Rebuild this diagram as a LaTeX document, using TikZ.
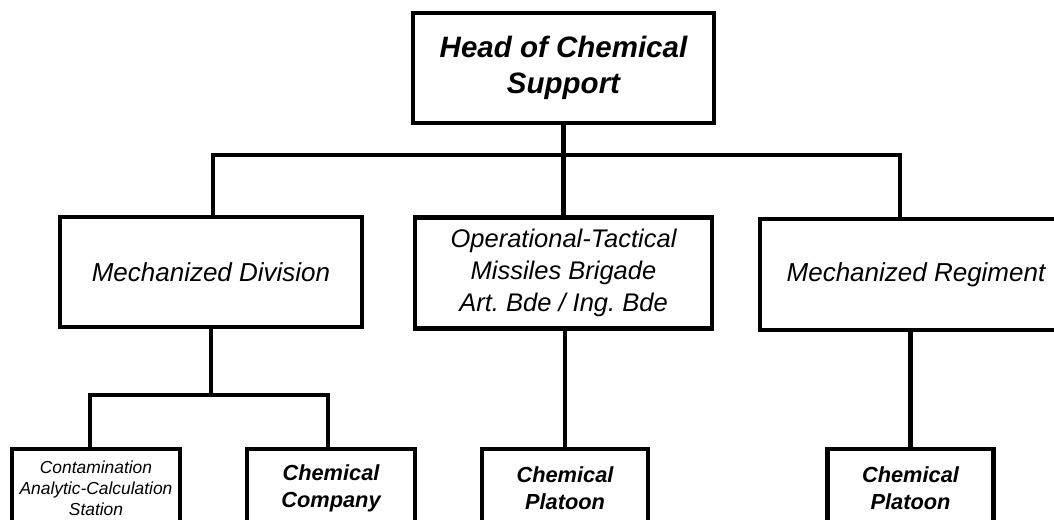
\documentclass[tikz,border=0pt]{standalone}
\usepackage{fontspec}
\setmainfont{Liberation Sans}
\frenchspacing

\tikzset{
  unit/.style={draw, line width=4.5pt, align=center, inner sep=0pt,
    minimum height=111pt},
  subunit/.style={draw, line width=4.5pt, align=center, inner sep=0pt,
    minimum width=166pt, minimum height=78pt,
    font=\bfseries\itshape\fontsize{21.8}{27}\selectfont},
}

\begin{document}
\begin{tikzpicture}[x=1pt,y=-1pt,line width=4.5pt]
  \useasboundingbox (0,0) rectangle (1054,519);

  \node[unit, minimum width=301pt, minimum height=110pt,
    font=\bfseries\itshape\fontsize{29.5}{36}\selectfont] (head) at (563.5,68)
    {Head of Chemical\\Support};

  \node[unit, minimum width=302pt, minimum height=110pt,
    font=\itshape\fontsize{26}{31}\selectfont] (div) at (211,272) {Mechanized Division};
  \node[unit, minimum width=297pt,
    font=\itshape\fontsize{25.5}{32}\selectfont] (otm) at (563.5,273)
    {Operational-Tactical\\Missiles Brigade\\Art. Bde / Ing. Bde};
  \node[unit, minimum width=312pt,
    font=\itshape\fontsize{26}{31}\selectfont] (reg) at (916,274.5) {Mechanized Regiment};

  \node[subunit, minimum width=168pt, font=\itshape\fontsize{17.4}{21}\selectfont]
    (cacs) at (96,488) {Contamination\\Analytic-Calculation\\Station};
  \node[subunit, minimum width=168pt] (co) at (331,488) {Chemical\\Company};
  \node[subunit] (pl1) at (565,488) {Chemical\\Platoon};
  \node[subunit] (pl2) at (910.5,488) {Chemical\\Platoon};

  \coordinate (busL) at (213,155);
  \coordinate (busR) at (900,155);
  \coordinate (forkL) at (90,395);
  \coordinate (forkR) at (328,395);

  \draw (busL |- div.north) -- (busL) -- (busR) -- (busR |- reg.north);
  \draw (head) -- (head |- busL);
  \draw (otm) -- (otm |- busL);

  \draw (forkL |- cacs.north) -- (forkL) -- (forkR) -- (forkR |- co.north);
  \draw (div) -- (div |- forkL);
  \draw (pl1) -- (pl1 |- otm.south);
  \draw (pl2) -- (pl2 |- reg.south);
\end{tikzpicture}
\end{document}
